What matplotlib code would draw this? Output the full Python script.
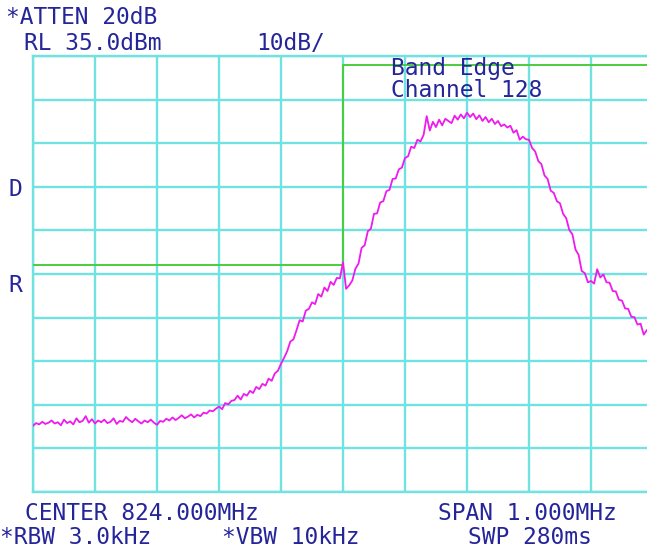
import numpy as np
import matplotlib.pyplot as plt

# --- sweep settings ---
center_mhz = 824.0
span_mhz = 1.0
ref_level = 35.0      # dBm, top of screen
db_per_div = 10.0

# trace levels (dBm), one point every 0.005 MHz from 823.500 MHz
level = [
    -49.8, -49.2, -49.5, -48.9, -49.4, -49.1, -48.6, -49.3, -49.0, -49.7,
    -48.4, -49.2, -48.8, -49.5, -48.1, -49.0, -48.7, -47.6, -49.1, -48.3,
    -49.3, -48.6, -49.0, -48.4, -49.2, -48.9, -48.1, -49.4, -48.7, -48.9,
    -47.8, -48.5, -49.0, -48.2, -48.8, -49.3, -48.6, -49.0, -48.4, -49.1,
    -49.6, -48.7, -48.9, -48.2, -48.6, -47.9, -48.5, -48.0, -47.4, -48.1,
    -47.7, -47.2, -47.9, -47.3, -47.6, -46.8, -47.0, -46.3, -46.5, -45.9,
    -45.4, -46.0, -44.6, -44.9, -44.1, -43.9, -42.9, -43.8, -42.5, -42.9,
    -41.8, -42.3, -40.9, -41.4, -40.2, -40.6, -39.0, -39.5, -37.8, -37.2,
    -35.6, -34.2, -32.7, -30.5, -30.0, -27.9, -25.6, -25.9, -23.4, -23.0,
    -21.5, -21.9, -19.6, -20.2, -18.1, -18.9, -16.8, -17.5, -15.9, -16.0,
    -12.3, -18.4, -17.6, -16.5, -13.8, -12.6, -9.0, -8.4, -5.2, -4.6,
    -1.2, -1.1, 1.4, 1.7, 4.0, 4.3, 6.8, 6.9, 9.0, 9.4,
    11.6, 12.0, 14.2, 13.9, 15.8, 15.4, 16.9, 21.2, 17.9, 19.9,
    18.7, 20.4, 19.1, 20.6, 20.1, 19.6, 21.3, 20.4, 21.6, 20.7,
    22.0, 21.0, 21.8, 20.5, 21.4, 20.1, 21.0, 19.8, 20.6, 19.4,
    20.1, 18.9, 19.3, 18.6, 19.0, 17.4, 18.0, 15.8, 16.5, 15.9,
    15.8, 13.9, 13.1, 10.9, 10.2, 7.6, 6.8, 4.1, 3.6, 1.7,
    1.2, -1.2, -2.2, -4.9, -5.9, -9.4, -10.6, -14.3, -14.8, -16.9,
    -16.6, -17.2, -13.9, -15.8, -15.1, -16.9, -17.0, -18.9, -19.0, -20.9,
    -21.1, -22.9, -23.0, -24.8, -24.9, -26.6, -26.4, -28.9, -27.9,
]
start_mhz = center_mhz - span_mhz / 2
freq = start_mhz + 0.005 * np.arange(len(level))

# band edge limit line
limit_freq = [823.5, 824.0, 824.0, 824.5]
limit_level = [-13.0, -13.0, 33.0, 33.0]

grid_col = "#70e2e2"
text_col = "#25259a"

fig = plt.figure(figsize=(6.47, 5.49), dpi=100)
ax = fig.add_axes([33 / 647, 57 / 549, 620 / 647, 436 / 549])

bottom = ref_level - 10 * db_per_div
ax.set_xlim(start_mhz, start_mhz + span_mhz)
ax.set_ylim(bottom, ref_level)
ax.set_xticks(np.linspace(start_mhz, start_mhz + span_mhz, 11))
ax.set_yticks(np.linspace(bottom, ref_level, 11))
ax.tick_params(length=0, labelbottom=False, labelleft=False)
ax.grid(True, color=grid_col, linewidth=1.7)
for s in ax.spines.values():
    s.set_color(grid_col)
    s.set_linewidth(1.7)

ax.plot(limit_freq, limit_level, color="#4ccc3c", linewidth=1.4, zorder=3)
ax.plot(freq, level, color="#ee1aee", linewidth=1.3, zorder=4)

ax.text(0.578, 0.997, "Band Edge\nChannel 128", transform=ax.transAxes,
        ha="left", va="top", color=text_col, family="DejaVu Sans Mono",
        fontsize=16.5, linespacing=0.9, zorder=5)

# screen annotations, positions in pixels from the top-left corner
def label(x, y, s):
    fig.text(x / 647, 1 - y / 549, s, ha="left", va="center",
             color=text_col, family="DejaVu Sans Mono", fontsize=16.5)

label(6, 17, "*ATTEN 20dB")
label(24, 44, "RL 35.0dBm")
label(256, 44, "10dB/")
label(8, 190, "D")
label(8, 285, "R")
label(25, 514, "CENTER 824.000MHz")
label(438, 514, "SPAN 1.000MHz")
label(0, 538, "*RBW 3.0kHz")
label(222, 538, "*VBW 10kHz")
label(468, 538, "SWP 280ms")

fig.savefig("out.png", dpi=100)
